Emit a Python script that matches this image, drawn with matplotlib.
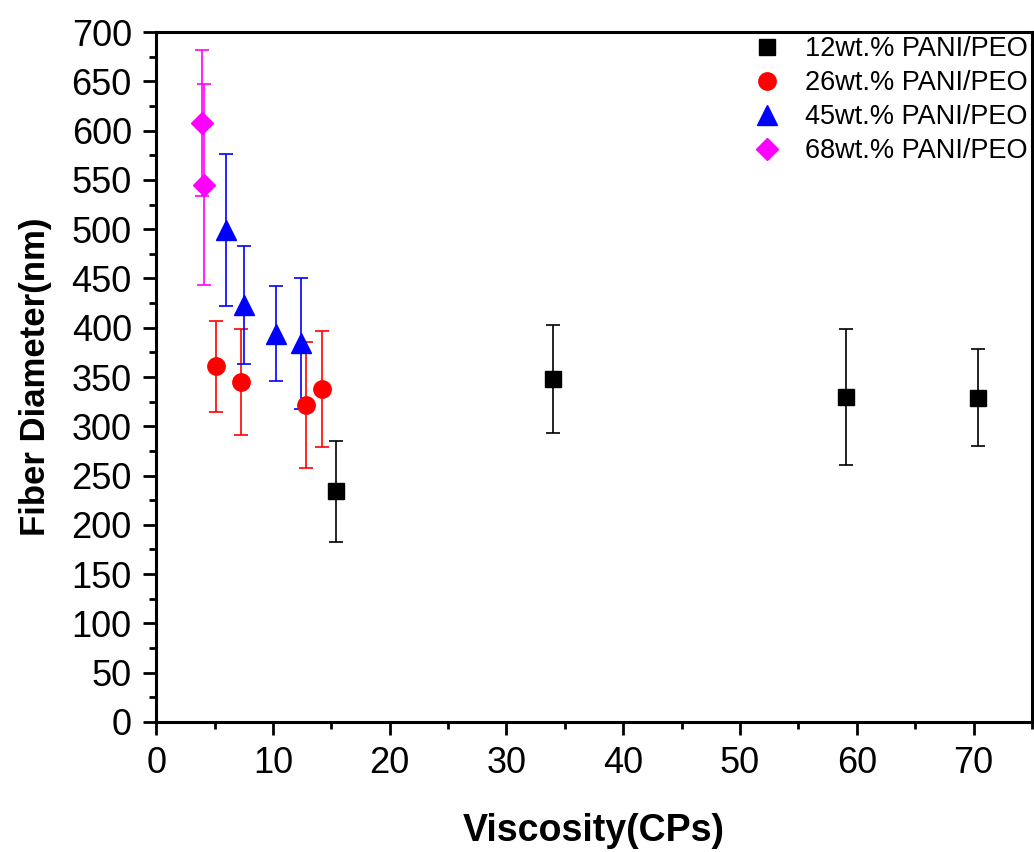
import matplotlib
matplotlib.use("Agg")
import matplotlib.pyplot as plt
from matplotlib.ticker import MultipleLocator

plt.rcParams['font.family'] = ['Liberation Sans', 'DejaVu Sans']

# viscosity (CPs), fiber diameter (nm), error (nm)
x12 = [15.4, 34.0, 59.1, 70.4]
y12 = [234, 348, 330, 329]
e12 = [51, 55, 69, 49]

x26 = [5.1, 7.3, 12.8, 14.2]
y26 = [361, 345, 322, 338]
e26 = [46, 54, 64, 59]

x45 = [6.0, 7.5, 10.3, 12.4]
y45 = [499, 423, 394, 384]
e45 = [77, 60, 48, 66]

x68 = [3.9, 4.1]
y68 = [608, 545]
e68 = [74, 102]

labels = ["12wt.% PANI/PEO", "26wt.% PANI/PEO", "45wt.% PANI/PEO", "68wt.% PANI/PEO"]

fig = plt.figure(figsize=(10.34, 8.52), dpi=100)
ax = fig.add_axes([0.151, 0.1526, 0.847, 0.8098])

kw = dict(capsize=5, elinewidth=1.2, capthick=1.2, linestyle='none')
c1 = ax.errorbar(x12, y12, yerr=e12, marker='s', color='black', ms=11, **kw)
c2 = ax.errorbar(x26, y26, yerr=e26, marker='o', color='red', ms=12.5, **kw)
c3 = ax.errorbar(x45, y45, yerr=e45, marker='^', color='blue', ms=14, **kw)
c4 = ax.errorbar(x68, y68, yerr=e68, marker='D', color='magenta', ms=11, **kw)

ax.set_xlim(0, 75)
ax.set_ylim(0, 700)
ax.xaxis.set_major_locator(MultipleLocator(10))
ax.xaxis.set_minor_locator(MultipleLocator(5))
ax.yaxis.set_major_locator(MultipleLocator(50))
ax.yaxis.set_minor_locator(MultipleLocator(25))
ax.tick_params(which='both', direction='out', width=2, top=False, right=False, labelsize=26)
ax.tick_params(which='major', length=9.5)
ax.tick_params(which='minor', length=5)
ax.tick_params(axis='y', which='major', pad=8)
ax.tick_params(axis='x', which='major', pad=8)
for s in ax.spines.values():
    s.set_linewidth(2.2)

ax.set_xlabel("Viscosity(CPs)", fontsize=27, fontweight='bold', labelpad=23)
ax.set_ylabel("Fiber Diameter(nm)", fontsize=25, fontweight='bold', labelpad=14)

ax.legend([c1[0], c2[0], c3[0], c4[0]], labels, loc='upper right', frameon=False,
          fontsize=19.5, handlelength=1.6, handletextpad=0.6,
          borderaxespad=0.0, borderpad=0.15, labelspacing=0.3)

fig.savefig("out.png", dpi=100)
